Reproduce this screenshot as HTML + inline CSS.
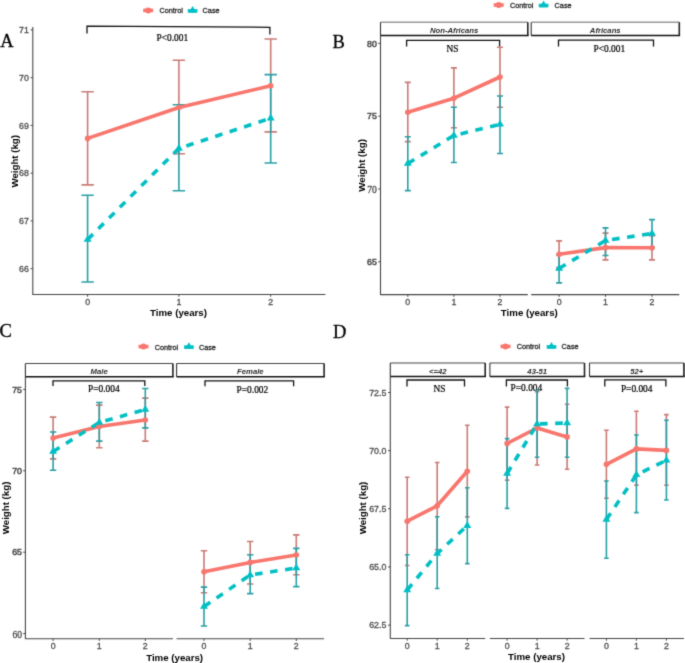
<!DOCTYPE html>
<html><head><meta charset="utf-8"><title>Weight over time</title>
<style>
html,body{margin:0;padding:0;background:#fff;}
body{width:685px;height:663px;overflow:hidden;font-family:"Liberation Sans", sans-serif;}
svg{display:block;}
#wrap{width:685px;height:663px;}
text{-webkit-font-smoothing:antialiased;}
</style></head>
<body>
<div id="wrap"><svg width="685" height="663" viewBox="0 0 685 663">
<defs><filter id="soft" x="0" y="0" width="685" height="663" filterUnits="userSpaceOnUse" color-interpolation-filters="sRGB"><feConvolveMatrix order="3" kernelMatrix="0.0192 0.1001 0.0192 0.1001 0.5228 0.1001 0.0192 0.1001 0.0192" edgeMode="duplicate" preserveAlpha="true"/></filter></defs>
<g filter="url(#soft)">
<rect width="685" height="663" fill="#fff"/>
<text x="0.3" y="47.4" font-family="Liberation Serif, serif" font-size="18.5" text-anchor="start" font-weight="normal" font-style="normal" fill="#000" stroke="#000" stroke-width="0.3">A</text>
<path d="M143.2 10.4H153.2" stroke="#F8766D" stroke-width="3.6"/><circle cx="148.2" cy="10.4" r="3" fill="#F8766D"/><text x="159.4" y="13.4" font-family="Liberation Sans, sans-serif" font-size="7.3" text-anchor="start" font-weight="normal" font-style="normal" fill="#2a2a2a" stroke="#2a2a2a" stroke-width="0.3">Control</text><path d="M187.8 10.9H197.4" stroke="#00BFC4" stroke-width="3.6"/><polygon points="192.6,6.01 196.4,12.59 188.8,12.59" fill="#00BFC4"/><text x="202.6" y="13.4" font-family="Liberation Sans, sans-serif" font-size="7.3" text-anchor="start" font-weight="normal" font-style="normal" fill="#2a2a2a" stroke="#2a2a2a" stroke-width="0.3">Case</text>
<path d="M32.8 27V295" stroke="#454545" stroke-width="1.1" fill="none"/><path d="M30.6 268.64H32.8" stroke="#454545" stroke-width="1" fill="none"/><text x="28.8" y="271.84" font-family="Liberation Sans, sans-serif" font-size="8.8" text-anchor="end" font-weight="normal" font-style="normal" fill="#4D4D4D" stroke="#4D4D4D" stroke-width="0.3">66</text><path d="M30.6 220.9H32.8" stroke="#454545" stroke-width="1" fill="none"/><text x="28.8" y="224.09" font-family="Liberation Sans, sans-serif" font-size="8.8" text-anchor="end" font-weight="normal" font-style="normal" fill="#4D4D4D" stroke="#4D4D4D" stroke-width="0.3">67</text><path d="M30.6 173.15H32.8" stroke="#454545" stroke-width="1" fill="none"/><text x="28.8" y="176.34" font-family="Liberation Sans, sans-serif" font-size="8.8" text-anchor="end" font-weight="normal" font-style="normal" fill="#4D4D4D" stroke="#4D4D4D" stroke-width="0.3">68</text><path d="M30.6 125.4H32.8" stroke="#454545" stroke-width="1" fill="none"/><text x="28.8" y="128.59" font-family="Liberation Sans, sans-serif" font-size="8.8" text-anchor="end" font-weight="normal" font-style="normal" fill="#4D4D4D" stroke="#4D4D4D" stroke-width="0.3">69</text><path d="M30.6 77.65H32.8" stroke="#454545" stroke-width="1" fill="none"/><text x="28.8" y="80.85" font-family="Liberation Sans, sans-serif" font-size="8.8" text-anchor="end" font-weight="normal" font-style="normal" fill="#4D4D4D" stroke="#4D4D4D" stroke-width="0.3">70</text><path d="M30.6 29.9H32.8" stroke="#454545" stroke-width="1" fill="none"/><text x="28.8" y="33.1" font-family="Liberation Sans, sans-serif" font-size="8.8" text-anchor="end" font-weight="normal" font-style="normal" fill="#4D4D4D" stroke="#4D4D4D" stroke-width="0.3">71</text>
<path d="M32.8 294.5H325.4" stroke="#454545" stroke-width="1.1" fill="none"/><path d="M87.6 294.5V296.7" stroke="#454545" stroke-width="1" fill="none"/><text x="87.6" y="305.1" font-family="Liberation Sans, sans-serif" font-size="8.8" text-anchor="middle" font-weight="normal" font-style="normal" fill="#4D4D4D" stroke="#4D4D4D" stroke-width="0.3">0</text><path d="M178.9 294.5V296.7" stroke="#454545" stroke-width="1" fill="none"/><text x="178.9" y="305.1" font-family="Liberation Sans, sans-serif" font-size="8.8" text-anchor="middle" font-weight="normal" font-style="normal" fill="#4D4D4D" stroke="#4D4D4D" stroke-width="0.3">1</text><path d="M270.7 294.5V296.7" stroke="#454545" stroke-width="1" fill="none"/><text x="270.7" y="305.1" font-family="Liberation Sans, sans-serif" font-size="8.8" text-anchor="middle" font-weight="normal" font-style="normal" fill="#4D4D4D" stroke="#4D4D4D" stroke-width="0.3">2</text>
<text x="178.5" y="316.2" font-family="Liberation Sans, sans-serif" font-size="9.7" text-anchor="middle" font-weight="bold" font-style="normal" fill="#000">Time (years)</text>
<text x="0" y="0" font-family="Liberation Sans, sans-serif" font-size="9.7" text-anchor="middle" font-weight="bold" font-style="normal" fill="#000" transform="translate(17.8,161.3) rotate(-90)">Weight (kg)</text>
<path d="M87 33.6V26.1L269.9 27.3V34.6" stroke="#111" stroke-width="1.3" fill="none"/>
<text x="172.3" y="40.7" font-family="Liberation Serif, serif" font-size="9.4" text-anchor="middle" font-weight="normal" font-style="normal" fill="#000" stroke="#000" stroke-width="0.22">P&lt;0.001</text>
<path d="M87.6 91.8V184.9M81.4 91.8H93.8M81.4 184.9H93.8" stroke="#C97B76" stroke-width="1.6" fill="none"/><path d="M178.9 60.2V153.7M172.7 60.2H185.1M172.7 153.7H185.1" stroke="#C97B76" stroke-width="1.6" fill="none"/><path d="M270.7 39V131.9M264.5 39H276.9M264.5 131.9H276.9" stroke="#C97B76" stroke-width="1.6" fill="none"/><path d="M87.6 195.3V282M81.4 195.3H93.8M81.4 282H93.8" stroke="#2A9FA5" stroke-width="1.6" fill="none"/><path d="M178.9 104.7V190.8M172.7 104.7H185.1M172.7 190.8H185.1" stroke="#2A9FA5" stroke-width="1.6" fill="none"/><path d="M270.7 74.6V163M264.5 74.6H276.9M264.5 163H276.9" stroke="#2A9FA5" stroke-width="1.6" fill="none"/><polyline points="87.6,138.4 178.9,107.5 270.7,85.8" stroke="#F8766D" stroke-width="3.6" fill="none" stroke-linejoin="round"/><polyline points="87.6,239.5 178.9,148.4 270.7,118.2" stroke="#00BFC4" stroke-width="3.6" fill="none" stroke-dasharray="7.6,7.6" stroke-linejoin="round"/><circle cx="87.6" cy="138.4" r="2.8" fill="#F8766D"/><circle cx="178.9" cy="107.5" r="2.8" fill="#F8766D"/><circle cx="270.7" cy="85.8" r="2.8" fill="#F8766D"/><polygon points="87.6,234.88 91.6,241.81 83.6,241.81" fill="#00BFC4"/><polygon points="178.9,143.78 182.9,150.71 174.9,150.71" fill="#00BFC4"/><polygon points="270.7,113.58 274.7,120.51 266.7,120.51" fill="#00BFC4"/>
<text x="332.5" y="48.1" font-family="Liberation Serif, serif" font-size="18.5" text-anchor="start" font-weight="normal" font-style="normal" fill="#000" stroke="#000" stroke-width="0.3">B</text>
<path d="M493.7 5H503.7" stroke="#F8766D" stroke-width="3.6"/><circle cx="498.7" cy="5" r="3" fill="#F8766D"/><text x="509.9" y="8" font-family="Liberation Sans, sans-serif" font-size="7.3" text-anchor="start" font-weight="normal" font-style="normal" fill="#2a2a2a" stroke="#2a2a2a" stroke-width="0.3">Control</text><path d="M538.8 5.5H548.4" stroke="#00BFC4" stroke-width="3.6"/><polygon points="543.6,0.61 547.4,7.19 539.8,7.19" fill="#00BFC4"/><text x="554.6" y="8" font-family="Liberation Sans, sans-serif" font-size="7.3" text-anchor="start" font-weight="normal" font-style="normal" fill="#2a2a2a" stroke="#2a2a2a" stroke-width="0.3">Case</text>
<path d="M380.5 35.5V295" stroke="#454545" stroke-width="1.1" fill="none"/><path d="M378.3 261.8H380.5" stroke="#454545" stroke-width="1" fill="none"/><text x="376.8" y="265" font-family="Liberation Sans, sans-serif" font-size="8.8" text-anchor="end" font-weight="normal" font-style="normal" fill="#4D4D4D" stroke="#4D4D4D" stroke-width="0.5">65</text><path d="M378.3 189H380.5" stroke="#454545" stroke-width="1" fill="none"/><text x="376.8" y="192.5" font-family="Liberation Serif, serif" font-size="9.6" text-anchor="end" font-weight="normal" font-style="normal" fill="#444" stroke="#555" stroke-width="0.3">70</text><path d="M378.3 116.2H380.5" stroke="#454545" stroke-width="1" fill="none"/><text x="376.8" y="119.4" font-family="Liberation Sans, sans-serif" font-size="8.8" text-anchor="end" font-weight="normal" font-style="normal" fill="#4D4D4D" stroke="#4D4D4D" stroke-width="0.5">75</text><path d="M378.3 43.4H380.5" stroke="#454545" stroke-width="1" fill="none"/><text x="376.8" y="46.6" font-family="Liberation Sans, sans-serif" font-size="8.8" text-anchor="end" font-weight="normal" font-style="normal" fill="#4D4D4D" stroke="#4D4D4D" stroke-width="0.5">80</text>
<path d="M380.5 294.6H527.8" stroke="#454545" stroke-width="1.1" fill="none"/><path d="M407.8 294.6V296.8" stroke="#454545" stroke-width="1" fill="none"/><text x="407.8" y="305.2" font-family="Liberation Sans, sans-serif" font-size="8.8" text-anchor="middle" font-weight="normal" font-style="normal" fill="#4D4D4D" stroke="#4D4D4D" stroke-width="0.3">0</text><path d="M453.9 294.6V296.8" stroke="#454545" stroke-width="1" fill="none"/><text x="453.9" y="305.2" font-family="Liberation Sans, sans-serif" font-size="8.8" text-anchor="middle" font-weight="normal" font-style="normal" fill="#4D4D4D" stroke="#4D4D4D" stroke-width="0.3">1</text><path d="M500 294.6V296.8" stroke="#454545" stroke-width="1" fill="none"/><text x="500" y="305.2" font-family="Liberation Sans, sans-serif" font-size="8.8" text-anchor="middle" font-weight="normal" font-style="normal" fill="#4D4D4D" stroke="#4D4D4D" stroke-width="0.3">2</text>
<path d="M531.2 294.6H679.3" stroke="#454545" stroke-width="1.1" fill="none"/><path d="M559.1 294.6V296.8" stroke="#454545" stroke-width="1" fill="none"/><text x="559.1" y="305.2" font-family="Liberation Sans, sans-serif" font-size="8.8" text-anchor="middle" font-weight="normal" font-style="normal" fill="#4D4D4D" stroke="#4D4D4D" stroke-width="0.3">0</text><path d="M605.5 294.6V296.8" stroke="#454545" stroke-width="1" fill="none"/><text x="605.5" y="305.2" font-family="Liberation Sans, sans-serif" font-size="8.8" text-anchor="middle" font-weight="normal" font-style="normal" fill="#4D4D4D" stroke="#4D4D4D" stroke-width="0.3">1</text><path d="M652 294.6V296.8" stroke="#454545" stroke-width="1" fill="none"/><text x="652" y="305.2" font-family="Liberation Sans, sans-serif" font-size="8.8" text-anchor="middle" font-weight="normal" font-style="normal" fill="#4D4D4D" stroke="#4D4D4D" stroke-width="0.3">2</text>
<text x="529.3" y="316.4" font-family="Liberation Sans, sans-serif" font-size="9.7" text-anchor="middle" font-weight="bold" font-style="normal" fill="#000">Time (years)</text>
<text x="0" y="0" font-family="Liberation Sans, sans-serif" font-size="9.7" text-anchor="middle" font-weight="bold" font-style="normal" fill="#000" transform="translate(364.7,165.4) rotate(-90)">Weight (kg)</text>
<rect x="380.5" y="22.2" width="147.3" height="13.3" fill="#fff" stroke="none"/><path d="M380.5 22.2H527.8" stroke="#999" stroke-width="1.5"/><path d="M380.5 22.2V35.5" stroke="#333" stroke-width="1.1"/><path d="M527.8 22.2V35.5" stroke="#222" stroke-width="1.6"/><path d="M380.5 35.5H528.6" stroke="#111" stroke-width="1.5"/><text x="454.15" y="32.85" font-family="Liberation Sans, sans-serif" font-size="7.7" text-anchor="middle" font-weight="bold" font-style="italic" fill="#2a2a2a">Non-Africans</text>
<rect x="531.2" y="22.2" width="148.1" height="13.3" fill="#fff" stroke="none"/><path d="M531.2 22.2H679.3" stroke="#999" stroke-width="1.5"/><path d="M531.2 22.2V35.5" stroke="#333" stroke-width="1.1"/><path d="M679.3 22.2V35.5" stroke="#222" stroke-width="1.6"/><path d="M531.2 35.5H680.1" stroke="#111" stroke-width="1.5"/><text x="605.25" y="32.85" font-family="Liberation Sans, sans-serif" font-size="7.7" text-anchor="middle" font-weight="bold" font-style="italic" fill="#2a2a2a">Africans</text>
<path d="M406.6 46.6V40.4H499.6V46.6" stroke="#111" stroke-width="1.3" fill="none"/>
<text x="452.4" y="51.7" font-family="Liberation Serif, serif" font-size="9.4" text-anchor="middle" font-weight="normal" font-style="normal" fill="#000" stroke="#000" stroke-width="0.22">NS</text>
<path d="M558.5 46.6V40.1H653.5V46.6" stroke="#111" stroke-width="1.3" fill="none"/>
<text x="609.3" y="51.6" font-family="Liberation Serif, serif" font-size="9.4" text-anchor="middle" font-weight="normal" font-style="normal" fill="#000" stroke="#000" stroke-width="0.22">P&lt;0.001</text>
<path d="M407.8 82.4V141.6M404.8 82.4H410.8M404.8 141.6H410.8" stroke="#C97B76" stroke-width="1.6" fill="none"/><path d="M453.9 67.9V127.8M450.9 67.9H456.9M450.9 127.8H456.9" stroke="#C97B76" stroke-width="1.6" fill="none"/><path d="M500 47.2V107.2M497 47.2H503M497 107.2H503" stroke="#C97B76" stroke-width="1.6" fill="none"/><path d="M407.8 136.7V190.6M404.8 136.7H410.8M404.8 190.6H410.8" stroke="#2A9FA5" stroke-width="1.6" fill="none"/><path d="M453.9 107.3V162.5M450.9 107.3H456.9M450.9 162.5H456.9" stroke="#2A9FA5" stroke-width="1.6" fill="none"/><path d="M500 96V153.5M497 96H503M497 153.5H503" stroke="#2A9FA5" stroke-width="1.6" fill="none"/><polyline points="407.8,112.2 453.9,98.2 500,77" stroke="#F8766D" stroke-width="3.6" fill="none" stroke-linejoin="round"/><polyline points="407.8,163.5 453.9,135.5 500,124.3" stroke="#00BFC4" stroke-width="3.6" fill="none" stroke-dasharray="7.6,7.6" stroke-linejoin="round"/><circle cx="407.8" cy="112.2" r="2.8" fill="#F8766D"/><circle cx="453.9" cy="98.2" r="2.8" fill="#F8766D"/><circle cx="500" cy="77" r="2.8" fill="#F8766D"/><polygon points="407.8,158.88 411.8,165.81 403.8,165.81" fill="#00BFC4"/><polygon points="453.9,130.88 457.9,137.81 449.9,137.81" fill="#00BFC4"/><polygon points="500,119.68 504,126.61 496,126.61" fill="#00BFC4"/>
<path d="M559.1 240.9V267.6M556.1 240.9H562.1M556.1 267.6H562.1" stroke="#C97B76" stroke-width="1.6" fill="none"/><path d="M605.5 233.1V259.9M602.5 233.1H608.5M602.5 259.9H608.5" stroke="#C97B76" stroke-width="1.6" fill="none"/><path d="M652 235.7V259.9M649 235.7H655M649 259.9H655" stroke="#C97B76" stroke-width="1.6" fill="none"/><path d="M559.1 254.9V282.9M556.1 254.9H562.1M556.1 282.9H562.1" stroke="#2A9FA5" stroke-width="1.6" fill="none"/><path d="M605.5 227.9V255.5M602.5 227.9H608.5M602.5 255.5H608.5" stroke="#2A9FA5" stroke-width="1.6" fill="none"/><path d="M652 219.6V247.6M649 219.6H655M649 247.6H655" stroke="#2A9FA5" stroke-width="1.6" fill="none"/><polyline points="559.1,254.3 605.5,247.6 652,247.8" stroke="#F8766D" stroke-width="3.6" fill="none" stroke-linejoin="round"/><polyline points="559.1,268.5 605.5,240.5 652,233.5" stroke="#00BFC4" stroke-width="3.6" fill="none" stroke-dasharray="7.6,7.6" stroke-linejoin="round"/><circle cx="559.1" cy="254.3" r="2.8" fill="#F8766D"/><circle cx="605.5" cy="247.6" r="2.8" fill="#F8766D"/><circle cx="652" cy="247.8" r="2.8" fill="#F8766D"/><polygon points="559.1,263.88 563.1,270.81 555.1,270.81" fill="#00BFC4"/><polygon points="605.5,235.88 609.5,242.81 601.5,242.81" fill="#00BFC4"/><polygon points="652,228.88 656,235.81 648,235.81" fill="#00BFC4"/>
<text x="-0.6" y="337" font-family="Liberation Serif, serif" font-size="18.5" text-anchor="start" font-weight="normal" font-style="normal" fill="#000" stroke="#000" stroke-width="0.3">C</text>
<path d="M138.5 346.6H148.5" stroke="#F8766D" stroke-width="3.6"/><circle cx="143.5" cy="346.6" r="3" fill="#F8766D"/><text x="154.7" y="349.6" font-family="Liberation Sans, sans-serif" font-size="7.3" text-anchor="start" font-weight="normal" font-style="normal" fill="#2a2a2a" stroke="#2a2a2a" stroke-width="0.3">Control</text><path d="M184.1 347.1H193.7" stroke="#00BFC4" stroke-width="3.6"/><polygon points="188.9,342.21 192.7,348.79 185.1,348.79" fill="#00BFC4"/><text x="198.9" y="349.6" font-family="Liberation Sans, sans-serif" font-size="7.3" text-anchor="start" font-weight="normal" font-style="normal" fill="#2a2a2a" stroke="#2a2a2a" stroke-width="0.3">Case</text>
<path d="M25.4 376.9V639" stroke="#454545" stroke-width="1.1" fill="none"/><path d="M23.2 633.6H25.4" stroke="#454545" stroke-width="1" fill="none"/><text x="22" y="638.3" font-family="Liberation Serif, serif" font-size="9.6" text-anchor="end" font-weight="normal" font-style="normal" fill="#444" stroke="#555" stroke-width="0.3">60</text><path d="M23.2 552.2H25.4" stroke="#454545" stroke-width="1" fill="none"/><text x="22" y="555.4" font-family="Liberation Sans, sans-serif" font-size="8.8" text-anchor="end" font-weight="normal" font-style="normal" fill="#4D4D4D" stroke="#4D4D4D" stroke-width="0.5">65</text><path d="M23.2 470.8H25.4" stroke="#454545" stroke-width="1" fill="none"/><text x="22" y="474" font-family="Liberation Sans, sans-serif" font-size="8.8" text-anchor="end" font-weight="normal" font-style="normal" fill="#4D4D4D" stroke="#4D4D4D" stroke-width="0.5">70</text><path d="M23.2 389.4H25.4" stroke="#454545" stroke-width="1" fill="none"/><text x="22" y="392.6" font-family="Liberation Sans, sans-serif" font-size="8.8" text-anchor="end" font-weight="normal" font-style="normal" fill="#4D4D4D" stroke="#4D4D4D" stroke-width="0.5">75</text>
<path d="M25.4 638.7H172.9" stroke="#454545" stroke-width="1.1" fill="none"/><path d="M53.1 638.7V640.9" stroke="#454545" stroke-width="1" fill="none"/><text x="53.1" y="649.3" font-family="Liberation Sans, sans-serif" font-size="8.8" text-anchor="middle" font-weight="normal" font-style="normal" fill="#4D4D4D" stroke="#4D4D4D" stroke-width="0.3">0</text><path d="M99.3 638.7V640.9" stroke="#454545" stroke-width="1" fill="none"/><text x="99.3" y="649.3" font-family="Liberation Sans, sans-serif" font-size="8.8" text-anchor="middle" font-weight="normal" font-style="normal" fill="#4D4D4D" stroke="#4D4D4D" stroke-width="0.3">1</text><path d="M145.3 638.7V640.9" stroke="#454545" stroke-width="1" fill="none"/><text x="145.3" y="649.3" font-family="Liberation Sans, sans-serif" font-size="8.8" text-anchor="middle" font-weight="normal" font-style="normal" fill="#4D4D4D" stroke="#4D4D4D" stroke-width="0.3">2</text>
<path d="M176.6 638.7H324.1" stroke="#454545" stroke-width="1.1" fill="none"/><path d="M204 638.7V640.9" stroke="#454545" stroke-width="1" fill="none"/><text x="204" y="649.3" font-family="Liberation Sans, sans-serif" font-size="8.8" text-anchor="middle" font-weight="normal" font-style="normal" fill="#4D4D4D" stroke="#4D4D4D" stroke-width="0.3">0</text><path d="M250.2 638.7V640.9" stroke="#454545" stroke-width="1" fill="none"/><text x="250.2" y="649.3" font-family="Liberation Sans, sans-serif" font-size="8.8" text-anchor="middle" font-weight="normal" font-style="normal" fill="#4D4D4D" stroke="#4D4D4D" stroke-width="0.3">1</text><path d="M296.3 638.7V640.9" stroke="#454545" stroke-width="1" fill="none"/><text x="296.3" y="649.3" font-family="Liberation Sans, sans-serif" font-size="8.8" text-anchor="middle" font-weight="normal" font-style="normal" fill="#4D4D4D" stroke="#4D4D4D" stroke-width="0.3">2</text>
<text x="174.6" y="660.6" font-family="Liberation Sans, sans-serif" font-size="9.7" text-anchor="middle" font-weight="bold" font-style="normal" fill="#000">Time (years)</text>
<text x="0" y="0" font-family="Liberation Sans, sans-serif" font-size="9.7" text-anchor="middle" font-weight="bold" font-style="normal" fill="#000" transform="translate(8.6,507.9) rotate(-90)">Weight (kg)</text>
<rect x="25.4" y="363.5" width="147.5" height="13.3" fill="#fff" stroke="none"/><path d="M25.4 363.5H172.9" stroke="#444" stroke-width="1.0"/><path d="M25.4 363.5V376.8" stroke="#333" stroke-width="1.1"/><path d="M172.9 363.5V376.8" stroke="#222" stroke-width="1.6"/><path d="M25.4 376.8H173.7" stroke="#111" stroke-width="1.5"/><text x="99.15" y="374.15" font-family="Liberation Sans, sans-serif" font-size="7.7" text-anchor="middle" font-weight="bold" font-style="italic" fill="#2a2a2a">Male</text>
<rect x="176.6" y="363.5" width="147.5" height="13.3" fill="#fff" stroke="none"/><path d="M176.6 363.5H324.1" stroke="#444" stroke-width="1.0"/><path d="M176.6 363.5V376.8" stroke="#333" stroke-width="1.1"/><path d="M324.1 363.5V376.8" stroke="#222" stroke-width="1.6"/><path d="M176.6 376.8H324.9" stroke="#111" stroke-width="1.5"/><text x="250.35" y="374.15" font-family="Liberation Sans, sans-serif" font-size="7.7" text-anchor="middle" font-weight="bold" font-style="italic" fill="#2a2a2a">Female</text>
<path d="M53 386V380.8H144.8V386" stroke="#111" stroke-width="1.3" fill="none"/>
<text x="103.8" y="391.6" font-family="Liberation Serif, serif" font-size="9.4" text-anchor="middle" font-weight="normal" font-style="normal" fill="#000" stroke="#000" stroke-width="0.22">P=0.004</text>
<path d="M205 386.2V380.8H293.6V386.2" stroke="#111" stroke-width="1.3" fill="none"/>
<text x="252.4" y="392.7" font-family="Liberation Serif, serif" font-size="9.4" text-anchor="middle" font-weight="normal" font-style="normal" fill="#000" stroke="#000" stroke-width="0.22">P=0.002</text>
<path d="M53.1 417.1V458.9M49.9 417.1H56.3M49.9 458.9H56.3" stroke="#C97B76" stroke-width="1.6" fill="none"/><path d="M99.3 405.1V447.7M96.1 405.1H102.5M96.1 447.7H102.5" stroke="#C97B76" stroke-width="1.6" fill="none"/><path d="M145.3 398.1V441.1M142.1 398.1H148.5M142.1 441.1H148.5" stroke="#C97B76" stroke-width="1.6" fill="none"/><path d="M53.1 432V470.3M49.9 432H56.3M49.9 470.3H56.3" stroke="#2A9FA5" stroke-width="1.6" fill="none"/><path d="M99.3 402.5V441.1M96.1 402.5H102.5M96.1 441.1H102.5" stroke="#2A9FA5" stroke-width="1.6" fill="none"/><path d="M145.3 388.5V427.9M142.1 388.5H148.5M142.1 427.9H148.5" stroke="#2A9FA5" stroke-width="1.6" fill="none"/><polyline points="53.1,438.1 99.3,426.5 145.3,420" stroke="#F8766D" stroke-width="3.6" fill="none" stroke-linejoin="round"/><polyline points="53.1,451.5 99.3,422.5 145.3,409.5" stroke="#00BFC4" stroke-width="3.6" fill="none" stroke-dasharray="7.6,7.6" stroke-linejoin="round"/><circle cx="53.1" cy="438.1" r="2.8" fill="#F8766D"/><circle cx="99.3" cy="426.5" r="2.8" fill="#F8766D"/><circle cx="145.3" cy="420" r="2.8" fill="#F8766D"/><polygon points="53.1,446.88 57.1,453.81 49.1,453.81" fill="#00BFC4"/><polygon points="99.3,417.88 103.3,424.81 95.3,424.81" fill="#00BFC4"/><polygon points="145.3,404.88 149.3,411.81 141.3,411.81" fill="#00BFC4"/>
<path d="M204 550.7V592.7M200.8 550.7H207.2M200.8 592.7H207.2" stroke="#C97B76" stroke-width="1.6" fill="none"/><path d="M250.2 541.5V584M247 541.5H253.4M247 584H253.4" stroke="#C97B76" stroke-width="1.6" fill="none"/><path d="M296.3 534.9V574.8M293.1 534.9H299.5M293.1 574.8H299.5" stroke="#C97B76" stroke-width="1.6" fill="none"/><path d="M204 587.1V626M200.8 587.1H207.2M200.8 626H207.2" stroke="#2A9FA5" stroke-width="1.6" fill="none"/><path d="M250.2 554.7V593.6M247 554.7H253.4M247 593.6H253.4" stroke="#2A9FA5" stroke-width="1.6" fill="none"/><path d="M296.3 548.4V586.6M293.1 548.4H299.5M293.1 586.6H299.5" stroke="#2A9FA5" stroke-width="1.6" fill="none"/><polyline points="204,571.7 250.2,562.4 296.3,555" stroke="#F8766D" stroke-width="3.6" fill="none" stroke-linejoin="round"/><polyline points="204,606.5 250.2,575 296.3,568" stroke="#00BFC4" stroke-width="3.6" fill="none" stroke-dasharray="7.6,7.6" stroke-linejoin="round"/><circle cx="204" cy="571.7" r="2.8" fill="#F8766D"/><circle cx="250.2" cy="562.4" r="2.8" fill="#F8766D"/><circle cx="296.3" cy="555" r="2.8" fill="#F8766D"/><polygon points="204,601.88 208,608.81 200,608.81" fill="#00BFC4"/><polygon points="250.2,570.38 254.2,577.31 246.2,577.31" fill="#00BFC4"/><polygon points="296.3,563.38 300.3,570.31 292.3,570.31" fill="#00BFC4"/>
<text x="332.9" y="337.6" font-family="Liberation Serif, serif" font-size="18.5" text-anchor="start" font-weight="normal" font-style="normal" fill="#000" stroke="#000" stroke-width="0.3">D</text>
<path d="M500.5 346.4H510.5" stroke="#F8766D" stroke-width="3.6"/><circle cx="505.5" cy="346.4" r="3" fill="#F8766D"/><text x="516.7" y="349.4" font-family="Liberation Sans, sans-serif" font-size="7.3" text-anchor="start" font-weight="normal" font-style="normal" fill="#2a2a2a" stroke="#2a2a2a" stroke-width="0.3">Control</text><path d="M546.7 346.9H556.3" stroke="#00BFC4" stroke-width="3.6"/><polygon points="551.5,342.01 555.3,348.59 547.7,348.59" fill="#00BFC4"/><text x="561.6" y="349.4" font-family="Liberation Sans, sans-serif" font-size="7.3" text-anchor="start" font-weight="normal" font-style="normal" fill="#2a2a2a" stroke="#2a2a2a" stroke-width="0.3">Case</text>
<path d="M390.3 376.6V638.8" stroke="#454545" stroke-width="1.1" fill="none"/><path d="M388.1 625.1H390.3" stroke="#454545" stroke-width="1" fill="none"/><text x="386.3" y="628.3" font-family="Liberation Sans, sans-serif" font-size="8.8" text-anchor="end" font-weight="normal" font-style="normal" fill="#4D4D4D" stroke="#4D4D4D" stroke-width="0.3">62.5</text><path d="M388.1 566.95H390.3" stroke="#454545" stroke-width="1" fill="none"/><text x="386.3" y="570.15" font-family="Liberation Sans, sans-serif" font-size="8.8" text-anchor="end" font-weight="normal" font-style="normal" fill="#4D4D4D" stroke="#4D4D4D" stroke-width="0.3">65.0</text><path d="M388.1 508.8H390.3" stroke="#454545" stroke-width="1" fill="none"/><text x="386.3" y="512" font-family="Liberation Sans, sans-serif" font-size="8.8" text-anchor="end" font-weight="normal" font-style="normal" fill="#4D4D4D" stroke="#4D4D4D" stroke-width="0.3">67.5</text><path d="M388.1 450.65H390.3" stroke="#454545" stroke-width="1" fill="none"/><text x="386.3" y="453.85" font-family="Liberation Sans, sans-serif" font-size="8.8" text-anchor="end" font-weight="normal" font-style="normal" fill="#4D4D4D" stroke="#4D4D4D" stroke-width="0.3">70.0</text><path d="M388.1 392.5H390.3" stroke="#454545" stroke-width="1" fill="none"/><text x="386.3" y="395.7" font-family="Liberation Sans, sans-serif" font-size="8.8" text-anchor="end" font-weight="normal" font-style="normal" fill="#4D4D4D" stroke="#4D4D4D" stroke-width="0.3">72.5</text>
<path d="M390.3 638.5H485.2" stroke="#454545" stroke-width="1.1" fill="none"/><path d="M407.2 638.5V640.7" stroke="#454545" stroke-width="1" fill="none"/><text x="407.2" y="649.1" font-family="Liberation Sans, sans-serif" font-size="8.8" text-anchor="middle" font-weight="normal" font-style="normal" fill="#4D4D4D" stroke="#4D4D4D" stroke-width="0.3">0</text><path d="M437.2 638.5V640.7" stroke="#454545" stroke-width="1" fill="none"/><text x="437.2" y="649.1" font-family="Liberation Sans, sans-serif" font-size="8.8" text-anchor="middle" font-weight="normal" font-style="normal" fill="#4D4D4D" stroke="#4D4D4D" stroke-width="0.3">1</text><path d="M467.3 638.5V640.7" stroke="#454545" stroke-width="1" fill="none"/><text x="467.3" y="649.1" font-family="Liberation Sans, sans-serif" font-size="8.8" text-anchor="middle" font-weight="normal" font-style="normal" fill="#4D4D4D" stroke="#4D4D4D" stroke-width="0.3">2</text>
<path d="M489.9 638.5H584.5" stroke="#454545" stroke-width="1.1" fill="none"/><path d="M507.1 638.5V640.7" stroke="#454545" stroke-width="1" fill="none"/><text x="507.1" y="649.1" font-family="Liberation Sans, sans-serif" font-size="8.8" text-anchor="middle" font-weight="normal" font-style="normal" fill="#4D4D4D" stroke="#4D4D4D" stroke-width="0.3">0</text><path d="M537.1 638.5V640.7" stroke="#454545" stroke-width="1" fill="none"/><text x="537.1" y="649.1" font-family="Liberation Sans, sans-serif" font-size="8.8" text-anchor="middle" font-weight="normal" font-style="normal" fill="#4D4D4D" stroke="#4D4D4D" stroke-width="0.3">1</text><path d="M567.1 638.5V640.7" stroke="#454545" stroke-width="1" fill="none"/><text x="567.1" y="649.1" font-family="Liberation Sans, sans-serif" font-size="8.8" text-anchor="middle" font-weight="normal" font-style="normal" fill="#4D4D4D" stroke="#4D4D4D" stroke-width="0.3">2</text>
<path d="M589.5 638.5H683.9" stroke="#454545" stroke-width="1.1" fill="none"/><path d="M606.4 638.5V640.7" stroke="#454545" stroke-width="1" fill="none"/><text x="606.4" y="649.1" font-family="Liberation Sans, sans-serif" font-size="8.8" text-anchor="middle" font-weight="normal" font-style="normal" fill="#4D4D4D" stroke="#4D4D4D" stroke-width="0.3">0</text><path d="M636.4 638.5V640.7" stroke="#454545" stroke-width="1" fill="none"/><text x="636.4" y="649.1" font-family="Liberation Sans, sans-serif" font-size="8.8" text-anchor="middle" font-weight="normal" font-style="normal" fill="#4D4D4D" stroke="#4D4D4D" stroke-width="0.3">1</text><path d="M666.4 638.5V640.7" stroke="#454545" stroke-width="1" fill="none"/><text x="666.4" y="649.1" font-family="Liberation Sans, sans-serif" font-size="8.8" text-anchor="middle" font-weight="normal" font-style="normal" fill="#4D4D4D" stroke="#4D4D4D" stroke-width="0.3">2</text>
<text x="536.5" y="660.3" font-family="Liberation Sans, sans-serif" font-size="9.7" text-anchor="middle" font-weight="bold" font-style="normal" fill="#000">Time (years)</text>
<text x="0" y="0" font-family="Liberation Sans, sans-serif" font-size="9.7" text-anchor="middle" font-weight="bold" font-style="normal" fill="#000" transform="translate(366.2,508.0) rotate(-90)">Weight (kg)</text>
<rect x="390.3" y="363" width="94.9" height="13.5" fill="#fff" stroke="none"/><path d="M390.3 363H485.2" stroke="#444" stroke-width="1.0"/><path d="M390.3 363V376.5" stroke="#333" stroke-width="1.1"/><path d="M485.2 363V376.5" stroke="#222" stroke-width="1.6"/><path d="M390.3 376.5H486" stroke="#111" stroke-width="1.5"/><text x="437.75" y="373.75" font-family="Liberation Sans, sans-serif" font-size="7.7" text-anchor="middle" font-weight="bold" font-style="italic" fill="#2a2a2a">&lt;=42</text>
<rect x="489.9" y="363" width="94.6" height="13.5" fill="#fff" stroke="none"/><path d="M489.9 363H584.5" stroke="#444" stroke-width="1.0"/><path d="M489.9 363V376.5" stroke="#333" stroke-width="1.1"/><path d="M584.5 363V376.5" stroke="#222" stroke-width="1.6"/><path d="M489.9 376.5H585.3" stroke="#111" stroke-width="1.5"/><text x="537.2" y="373.75" font-family="Liberation Sans, sans-serif" font-size="7.7" text-anchor="middle" font-weight="bold" font-style="italic" fill="#2a2a2a">43-51</text>
<rect x="589.5" y="363" width="94.4" height="13.5" fill="#fff" stroke="none"/><path d="M589.5 363H683.9" stroke="#444" stroke-width="1.0"/><path d="M589.5 363V376.5" stroke="#333" stroke-width="1.1"/><path d="M683.9 363V376.5" stroke="#222" stroke-width="1.6"/><path d="M589.5 376.5H684.7" stroke="#111" stroke-width="1.5"/><text x="636.7" y="373.75" font-family="Liberation Sans, sans-serif" font-size="7.7" text-anchor="middle" font-weight="bold" font-style="italic" fill="#2a2a2a">52+</text>
<path d="M407 386.5V380H464.5V386.5" stroke="#111" stroke-width="1.3" fill="none"/>
<text x="439.4" y="392" font-family="Liberation Serif, serif" font-size="9.4" text-anchor="middle" font-weight="normal" font-style="normal" fill="#000" stroke="#000" stroke-width="0.22">NS</text>
<path d="M506.4 386.4V380H567.4V386.4" stroke="#111" stroke-width="1.3" fill="none"/>
<text x="526.4" y="391" font-family="Liberation Serif, serif" font-size="9.4" text-anchor="middle" font-weight="normal" font-style="normal" fill="#000" stroke="#000" stroke-width="0.22">P=0.004</text>
<path d="M604.8 386.6V379.9H665.9V386.6" stroke="#111" stroke-width="1.3" fill="none"/>
<text x="636.7" y="391.8" font-family="Liberation Serif, serif" font-size="9.4" text-anchor="middle" font-weight="normal" font-style="normal" fill="#000" stroke="#000" stroke-width="0.22">P=0.004</text>
<path d="M407.2 477.3V565.5M404.9 477.3H409.5M404.9 565.5H409.5" stroke="#C97B76" stroke-width="1.6" fill="none"/><path d="M437.2 462.5V549.8M434.9 462.5H439.5M434.9 549.8H439.5" stroke="#C97B76" stroke-width="1.6" fill="none"/><path d="M467.3 425.2V516.9M465 425.2H469.6M465 516.9H469.6" stroke="#C97B76" stroke-width="1.6" fill="none"/><path d="M407.2 554.7V625.6M404.9 554.7H409.5M404.9 625.6H409.5" stroke="#2A9FA5" stroke-width="1.6" fill="none"/><path d="M437.2 516.7V588.5M434.9 516.7H439.5M434.9 588.5H439.5" stroke="#2A9FA5" stroke-width="1.6" fill="none"/><path d="M467.3 487.7V563.6M465 487.7H469.6M465 563.6H469.6" stroke="#2A9FA5" stroke-width="1.6" fill="none"/><polyline points="407.2,521.2 437.2,505.8 467.3,471.3" stroke="#F8766D" stroke-width="3.6" fill="none" stroke-linejoin="round"/><polyline points="407.2,590 437.2,553.5 467.3,525.6" stroke="#00BFC4" stroke-width="3.6" fill="none" stroke-dasharray="7.6,7.6" stroke-linejoin="round"/><circle cx="407.2" cy="521.2" r="2.8" fill="#F8766D"/><circle cx="437.2" cy="505.8" r="2.8" fill="#F8766D"/><circle cx="467.3" cy="471.3" r="2.8" fill="#F8766D"/><polygon points="407.2,585.38 411.2,592.31 403.2,592.31" fill="#00BFC4"/><polygon points="437.2,548.88 441.2,555.81 433.2,555.81" fill="#00BFC4"/><polygon points="467.3,520.98 471.3,527.91 463.3,527.91" fill="#00BFC4"/>
<path d="M507.1 407.1V480.2M504.8 407.1H509.4M504.8 480.2H509.4" stroke="#C97B76" stroke-width="1.6" fill="none"/><path d="M537.1 391.7V465M534.8 391.7H539.4M534.8 465H539.4" stroke="#C97B76" stroke-width="1.6" fill="none"/><path d="M567.1 404.3V469.2M564.8 404.3H569.4M564.8 469.2H569.4" stroke="#C97B76" stroke-width="1.6" fill="none"/><path d="M507.1 438.6V508.4M504.8 438.6H509.4M504.8 508.4H509.4" stroke="#2A9FA5" stroke-width="1.6" fill="none"/><path d="M537.1 390.3V457.3M534.8 390.3H539.4M534.8 457.3H539.4" stroke="#2A9FA5" stroke-width="1.6" fill="none"/><path d="M567.1 388.4V457.3M564.8 388.4H569.4M564.8 457.3H569.4" stroke="#2A9FA5" stroke-width="1.6" fill="none"/><polyline points="507.1,443.4 537.1,428 567.1,436.9" stroke="#F8766D" stroke-width="3.6" fill="none" stroke-linejoin="round"/><polyline points="507.1,473.5 537.1,424 567.1,423" stroke="#00BFC4" stroke-width="3.6" fill="none" stroke-dasharray="7.6,7.6" stroke-linejoin="round"/><circle cx="507.1" cy="443.4" r="2.8" fill="#F8766D"/><circle cx="537.1" cy="428" r="2.8" fill="#F8766D"/><circle cx="567.1" cy="436.9" r="2.8" fill="#F8766D"/><polygon points="507.1,468.88 511.1,475.81 503.1,475.81" fill="#00BFC4"/><polygon points="537.1,419.38 541.1,426.31 533.1,426.31" fill="#00BFC4"/><polygon points="567.1,418.38 571.1,425.31 563.1,425.31" fill="#00BFC4"/>
<path d="M606.4 430.2V498.3M604.1 430.2H608.7M604.1 498.3H608.7" stroke="#C97B76" stroke-width="1.6" fill="none"/><path d="M636.4 411.3V485.2M634.1 411.3H638.7M634.1 485.2H638.7" stroke="#C97B76" stroke-width="1.6" fill="none"/><path d="M666.4 414.6V485.2M664.1 414.6H668.7M664.1 485.2H668.7" stroke="#C97B76" stroke-width="1.6" fill="none"/><path d="M606.4 481V558.3M604.1 481H608.7M604.1 558.3H608.7" stroke="#2A9FA5" stroke-width="1.6" fill="none"/><path d="M636.4 435V512.6M634.1 435H638.7M634.1 512.6H638.7" stroke="#2A9FA5" stroke-width="1.6" fill="none"/><path d="M666.4 420.2V500M664.1 420.2H668.7M664.1 500H668.7" stroke="#2A9FA5" stroke-width="1.6" fill="none"/><polyline points="606.4,464.3 636.4,448.9 666.4,450.4" stroke="#F8766D" stroke-width="3.6" fill="none" stroke-linejoin="round"/><polyline points="606.4,519.5 636.4,474.8 666.4,460.3" stroke="#00BFC4" stroke-width="3.6" fill="none" stroke-dasharray="7.6,7.6" stroke-linejoin="round"/><circle cx="606.4" cy="464.3" r="2.8" fill="#F8766D"/><circle cx="636.4" cy="448.9" r="2.8" fill="#F8766D"/><circle cx="666.4" cy="450.4" r="2.8" fill="#F8766D"/><polygon points="606.4,514.88 610.4,521.81 602.4,521.81" fill="#00BFC4"/><polygon points="636.4,470.18 640.4,477.11 632.4,477.11" fill="#00BFC4"/><polygon points="666.4,455.68 670.4,462.61 662.4,462.61" fill="#00BFC4"/>
</g>
</svg></div>
</body></html>
